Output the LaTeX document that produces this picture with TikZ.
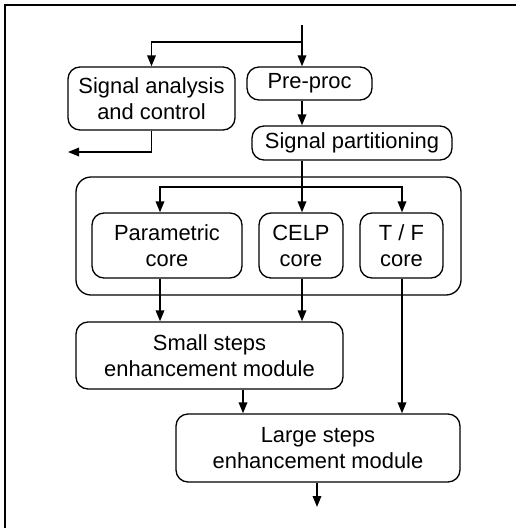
\documentclass[tikz,border=0pt]{standalone}
\usepackage{fontspec}
\setmainfont{Liberation Sans}
\usetikzlibrary{arrows.meta}
\begin{document}
\begin{tikzpicture}[x=1pt,y=-1pt,
  blk/.style={draw, rounded corners=12pt, line width=1.3pt, inner sep=0pt, align=center,
    font=\fontsize{21.9}{26}\selectfont},
  conn/.style={line width=1.8pt, -{Triangle[length=11pt,width=8.5pt]}},
  wire/.style={line width=1.8pt}]
\useasboundingbox (0,0) rectangle (516,531);
% frame
\draw[line width=2pt] (516,5) -- (5,5) -- (5,528);
% container
\node[blk, rounded corners=15pt, minimum width=385pt, minimum height=118pt] (cont) at (268.5,236) {};
% boxes
\node[blk, minimum width=167pt, minimum height=63pt] (sa) at (151.5,98.5) {Signal analysis\\and control};
\node[blk, minimum width=125pt, minimum height=33pt] (pre) at (309.5,83.5) {Pre-proc};
\node[blk, minimum width=200pt, minimum height=34pt] (sp) at (352,143) {Signal partitioning};
\node[blk, minimum width=150pt, minimum height=65pt] (par) at (167,245.5) {Parametric\\core};
\node[blk, minimum width=84pt, minimum height=65pt] (celp) at (301,245.5) {CELP\\core};
\node[blk, minimum width=83pt, minimum height=65pt] (tf) at (401.5,245.5) {T / F\\core};
\node[blk, minimum width=267pt, minimum height=67pt] (small) at (209.5,355.5) {Small steps\\enhancement module};
\node[blk, minimum width=284pt, minimum height=68pt] (large) at (318,448) {Large steps\\enhancement module};
% coordinates
\coordinate (in) at (302,25);
\coordinate (br) at (302,42);
\coordinate (saout) at (68,152);
\coordinate (cbr) at (302,187);
\coordinate (tfx) at (402,0);
\coordinate (parx) at (160,0);
\coordinate (smx) at (243,0);
\coordinate (out) at (317,507);
% connectors
\draw[wire] (in) -- (br);
\draw[conn] (br) -- (br |- pre.north);
\draw[conn] (br) -| (sa.north);
\draw[conn] (pre.south -| in) -- (sp.north -| in);
\draw[conn] (sa.south) |- (saout);
\draw[conn] (sp.south -| in) -- (celp.north -| in);
\draw[conn] (cbr) -| (par.north -| parx);
\draw[conn] (cbr) -| (tf.north -| tfx);
\draw[conn] (par.south -| parx) -- (small.north -| parx);
\draw[conn] (celp.south -| in) -- (small.north -| in);
\draw[conn] (small.south -| smx) -- (large.north -| smx);
\draw[conn] (tf.south -| tfx) -- (large.north -| tfx);
\draw[conn] (large.south -| out) -- (out);
\end{tikzpicture}
\end{document}
